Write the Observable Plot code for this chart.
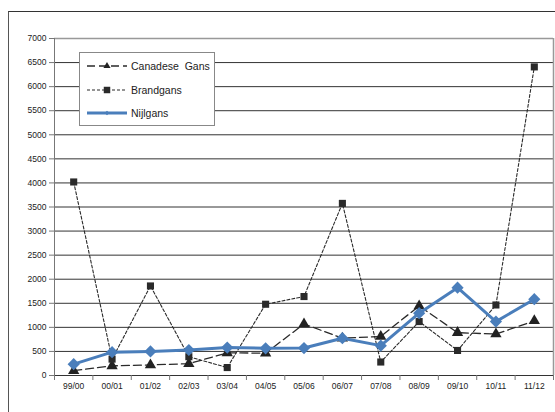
<!DOCTYPE html>
<html>
<head>
<meta charset="utf-8">
<script src="https://cdn.jsdelivr.net/npm/d3@7"></script>
<script src="https://cdn.jsdelivr.net/npm/@observablehq/plot@0.6"></script>
<style>
  body { margin: 0; background: #fff; font-family: "Liberation Sans", Arial, sans-serif; }
  #wrap { position: relative; width: 555px; height: 412px; overflow: hidden; }
  #frame { position: absolute; left: 8px; top: 11px; width: 600px; height: 500px; border-left: 1.5px solid #555; border-top: 1.5px solid #333; }
  #chart { position: absolute; left: 0; top: 0; }
  #legend { position: absolute; left: 79px; top: 52px; width: 134px; height: 72px; border: 1px solid #888; background: #fff; font-size: 10.5px; color: #222; }
  .row { position: absolute; left: 6px; height: 14px; display: flex; align-items: center; }
  .row svg { margin-right: 3px; }
</style>
</head>
<body>
<div id="wrap">
  <div id="frame"></div>
  <div id="chart"></div>
  <div id="legend"></div>
</div>
<script>
const categories = ["99/00","00/01","01/02","02/03","03/04","04/05","05/06","06/07","07/08","08/09","09/10","10/11","11/12"];
const canadeseGans = [100, 200, 220, 245, 470, 465, 1070, 775, 810, 1445, 890, 860, 1135];
const brandgans = [4020, 340, 1860, 390, 165, 1480, 1640, 3575, 280, 1120, 520, 1465, 6410];
const nijlgans = [235, 485, 500, 530, 580, 565, 570, 775, 620, 1295, 1825, 1120, 1585];
const yTicks = d3.range(0, 7001, 500);
const seriesNames = ["Canadese\u00a0\u00a0Gans", "Brandgans", "Nijlgans"];

const styles = [
  {stroke: "#2a2a2a", dash: "8,4", width: 1.3, symbol: "triangle", r: 4.2, fill: "#222"},
  {stroke: "#2a2a2a", dash: "3,2", width: 1.1, symbol: "square", r: 4, fill: "#2a2a2a"},
  {stroke: "#4a7ebb", dash: null, width: 3, symbol: "diamond2", r: 5.5, fill: "#4a7ebb"}
];
const seriesVals = [canadeseGans, brandgans, nijlgans];
const tables = seriesVals.map(vals => vals.map((v, i) => ({i, v})));
const boundaries = d3.range(-0.5, categories.length, 1);

const marks = [
  Plot.ruleY(yTicks.slice(0, -1), {stroke: "#333", strokeWidth: 1}),
  Plot.ruleY([7000], {stroke: "#999", strokeWidth: 1.5}),
  Plot.ruleX([categories.length - 0.5], {y1: 0, y2: 7000, stroke: "#999", strokeWidth: 1.5}),
  Plot.ruleX([-0.5], {y1: 0, y2: 7000, stroke: "#777", strokeWidth: 1}),
  Plot.axisY({ticks: yTicks, label: null, tickSize: 5, tickPadding: 3, stroke: "#777", fontSize: 8.5, fill: "#222", tickFormat: d => String(d)}),
  Plot.axisX({ticks: boundaries, label: null, tickSize: 5, stroke: "#777", tickFormat: () => ""}),
  Plot.axisX({ticks: d3.range(categories.length), label: null, tickSize: 0, tickPadding: 7, fontSize: 8.5, fill: "#222", tickFormat: i => categories[i]})
];
tables.forEach((t, k) => {
  const s = styles[k];
  marks.push(Plot.line(t, {x: "i", y: "v", stroke: s.stroke, strokeWidth: s.width, strokeDasharray: s.dash}));
  marks.push(Plot.dot(t, {x: "i", y: "v", symbol: () => s.symbol, r: s.r, fill: s.fill, stroke: "none"}));
});

const chart = Plot.plot({
  width: 555,
  height: 412,
  marginLeft: 54,
  marginRight: 2,
  marginTop: 38,
  marginBottom: 37,
  style: {fontFamily: "Liberation Sans, Arial, sans-serif", fontSize: "8.5px", background: "transparent"},
  x: {type: "linear", domain: [-0.5, categories.length - 0.5], axis: null, label: null},
  y: {domain: [0, 7000], axis: null, label: null},
  symbol: {type: "identity"},
  marks
});
document.getElementById("chart").appendChild(chart);

// legend
const legend = document.getElementById("legend");
const rowTops = [6, 30, 53];
seriesNames.forEach((name, k) => {
  const s = styles[k];
  const row = document.createElement("div");
  row.className = "row";
  row.style.top = rowTops[k] + "px";
  const svg = d3.create("svg").attr("width", 42).attr("height", 12);
  svg.append("line").attr("x1", 1).attr("x2", 41).attr("y1", 6).attr("y2", 6)
    .attr("stroke", s.stroke).attr("stroke-width", s.width)
    .attr("stroke-dasharray", s.dash);
  const sym = {triangle: d3.symbolTriangle, square: d3.symbolSquare, diamond2: d3.symbolDiamond2}[s.symbol];
  const size = [22, 42, 14][k];
  svg.append("path").attr("transform", "translate(21,6)")
    .attr("d", d3.symbol(sym, size)()).attr("fill", s.fill);
  row.appendChild(svg.node());
  const span = document.createElement("span");
  span.textContent = name;
  row.appendChild(span);
  legend.appendChild(row);
});
</script>
</body>
</html>
